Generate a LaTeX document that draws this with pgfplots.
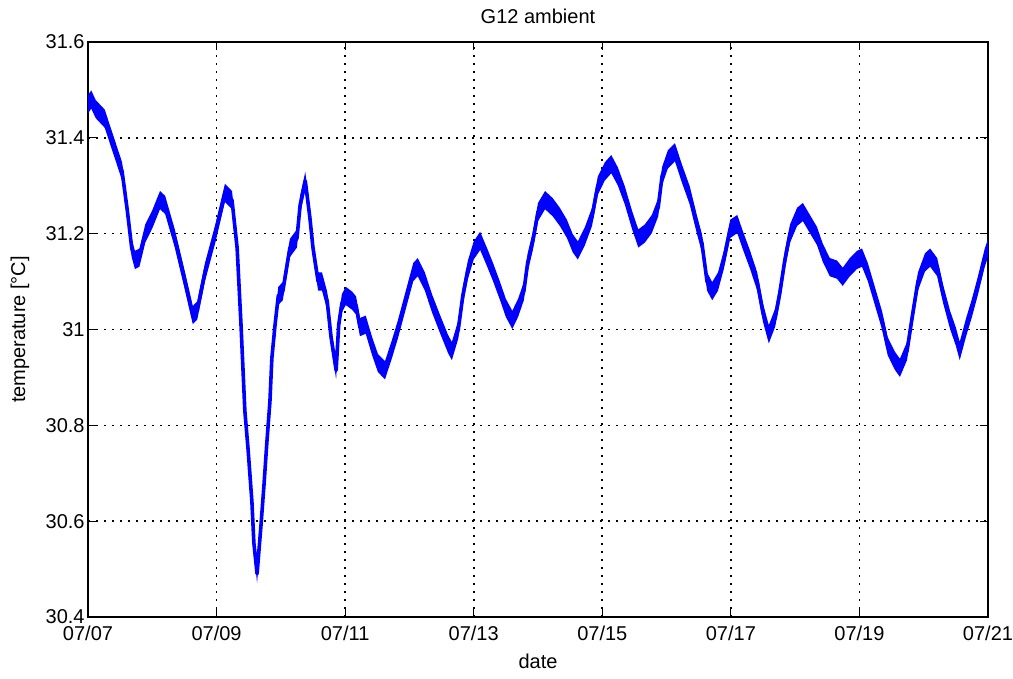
\documentclass[border=0pt]{standalone}
\usepackage{fontspec}
\setmainfont{Liberation Sans}
\usepackage{pgfplots}
\usepackage{pgfplotstable}
\pgfplotsset{compat=1.18}
\usepgfplotslibrary{fillbetween}

% days since 07/07 00:00, ambient temperature in degC
\pgfplotstableread{
d t
0.00 31.47
0.05 31.48
0.12 31.46
0.26 31.44
0.42 31.375
0.53 31.33
0.61 31.25
0.68 31.17
0.73 31.145
0.80 31.15
0.89 31.20
1.00 31.23
1.12 31.27
1.20 31.26
1.35 31.19
1.51 31.10
1.63 31.03
1.70 31.04
1.82 31.12
1.98 31.20
2.13 31.285
2.24 31.27
2.32 31.17
2.38 31.01
2.41 30.92
2.44 30.83
2.49 30.75
2.55 30.64
2.58 30.555
2.63 30.49
2.69 30.59
2.74 30.68
2.78 30.76
2.83 30.85
2.86 30.94
2.91 31.01
2.96 31.07
3.03 31.08
3.14 31.17
3.25 31.19
3.30 31.26
3.38 31.31
3.45 31.235
3.50 31.17
3.58 31.10
3.64 31.10
3.72 31.06
3.78 30.985
3.86 30.915
3.90 31.01
3.95 31.055
4.01 31.07
4.11 31.06
4.17 31.05
4.23 31.005
4.32 31.01
4.42 30.965
4.51 30.93
4.62 30.915
4.73 30.96
4.82 31.00
4.96 31.07
5.06 31.12
5.13 31.13
5.24 31.10
5.35 31.055
5.48 31.01
5.60 30.97
5.66 30.955
5.76 31.00
5.83 31.07
5.91 31.125
6.00 31.165
6.10 31.185
6.21 31.15
6.30 31.12
6.41 31.08
6.50 31.045
6.60 31.02
6.69 31.045
6.78 31.08
6.84 31.14
6.92 31.185
7.00 31.245
7.11 31.27
7.23 31.255
7.34 31.235
7.45 31.21
7.54 31.18
7.62 31.165
7.73 31.195
7.84 31.235
7.93 31.30
8.04 31.33
8.14 31.345
8.24 31.32
8.35 31.28
8.46 31.23
8.56 31.19
8.66 31.20
8.77 31.22
8.87 31.255
8.93 31.32
9.02 31.355
9.13 31.37
9.24 31.325
9.36 31.28
9.47 31.22
9.55 31.18
9.63 31.10
9.71 31.08
9.80 31.10
9.89 31.145
9.99 31.21
10.10 31.22
10.19 31.185
10.30 31.145
10.41 31.10
10.50 31.035
10.59 30.99
10.69 31.025
10.76 31.075
10.84 31.145
10.92 31.20
11.03 31.235
11.12 31.245
11.23 31.22
11.34 31.195
11.43 31.16
11.54 31.13
11.65 31.125
11.74 31.11
11.85 31.13
11.96 31.145
12.04 31.15
12.13 31.12
12.24 31.07
12.35 31.02
12.44 30.965
12.55 30.935
12.63 30.92
12.74 30.955
12.82 31.025
12.91 31.10
13.02 31.14
13.10 31.15
13.21 31.13
13.30 31.075
13.41 31.02
13.50 30.985
13.56 30.955
13.66 31.005
13.75 31.045
13.84 31.09
13.95 31.15
14.00 31.17
}\ambient

\definecolor{mblue}{RGB}{0,0,255}

\begin{document}
\begin{tikzpicture}
\begin{axis}[
  scale only axis,
  width=450pt, height=287.5pt,
  xmin=0, xmax=14, ymin=30.4, ymax=31.6,
  xtick={0,2,...,14},
  xticklabels={07/07,07/09,07/11,07/13,07/15,07/17,07/19,07/21},
  ytick={30.4,30.6,...,31.6},
  yticklabel style={/pgf/number format/fixed, /pgf/number format/assume math mode=true, inner sep=1.5pt},
  xticklabel style={inner sep=2pt, yshift=-2.5pt},
  tick align=inside,
  major tick length=4pt,
  tick style={black, line width=0.5pt},
  axis line style={black, line width=0.6pt},
  grid=major,
  major grid style={black, line width=0.8pt, dash pattern=on 0.8pt off 3.2pt},
  title={G12 ambient},
  title style={at={(axis description cs:0.5,1)}, anchor=center, yshift=7pt},
  xlabel={date},
  xlabel style={at={(axis description cs:0.5,0)}, anchor=center, yshift=-22pt},
  ylabel={temperature [\textdegree C]},
  ylabel style={at={(axis description cs:-0.0756,0.5)}, anchor=center, rotate=0},
  font=\fontsize{10pt}{12pt}\selectfont,
]
% measurement noise drawn as a band around the trace
\addplot[draw=none, name path=hi, forget plot] table[x=d, y expr=\thisrow{t}+0.019] {\ambient};
\addplot[draw=none, name path=lo, forget plot] table[x=d, y expr=\thisrow{t}-0.019] {\ambient};
\addplot[fill=mblue, draw=none] fill between[of=hi and lo];
\addplot[mblue, line width=1.8pt, line join=round] table[x=d, y=t] {\ambient};
\coordinate (ll) at (rel axis cs:0,0);
\coordinate (ur) at (rel axis cs:1,1);
\end{axis}
\pgfresetboundingbox
\path[use as bounding box] ([shift={(-44pt,-31pt)}]ll) rectangle ([shift={(12.5pt,21pt)}]ur);
\end{tikzpicture}
\end{document}
